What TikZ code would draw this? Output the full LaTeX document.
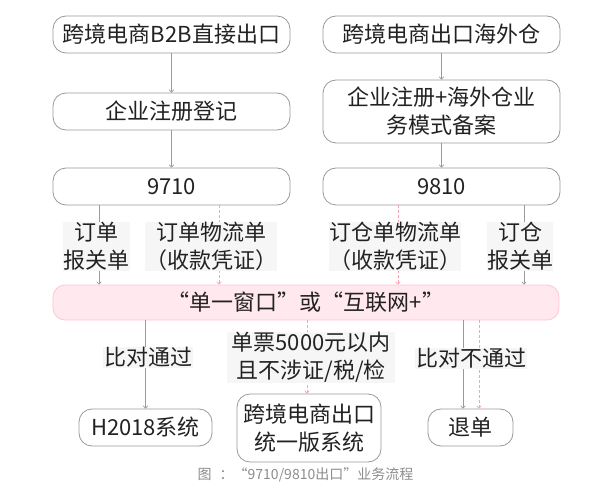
\documentclass[tikz,border=0pt]{standalone}
\usepackage{fontspec}
\setmainfont{Noto Sans CJK SC}
\usetikzlibrary{arrows.meta}
\definecolor{boxline}{HTML}{9A9A9A}
\definecolor{txt}{HTML}{222222}
\definecolor{pinkfill}{HTML}{FFE8EE}
\definecolor{pinkline}{HTML}{FFC6D2}
\definecolor{pinkdash}{HTML}{FF9FB4}
\definecolor{labelbg}{HTML}{F6F6F6}
\definecolor{captxt}{HTML}{8C8C8C}
\tikzset{
  flowbox/.style={draw=boxline, line width=0.8pt, rounded corners=13pt, fill=white,
    text=txt, align=center, inner sep=0pt, font=\fontsize{22}{28}\selectfont},
  pinkbox/.style={draw=pinkline, line width=0.8pt, rounded corners=12pt, fill=pinkfill,
    text=txt, align=center, inner sep=0pt, font=\fontsize{22}{28}\selectfont},
  lbl/.style={fill=labelbg, text=txt, align=center, inner sep=0pt,
    font=\fontsize{22}{28}\selectfont},
  arr/.style={draw=boxline, line width=0.7pt, -{To[length=3pt,width=5pt]}},
  darr/.style={draw=pinkdash, line width=0.7pt, dash pattern=on 3pt off 2pt, -{To[length=3pt,width=5pt]}},
}
\begin{document}
\begin{tikzpicture}[x=1pt,y=-1pt]
\useasboundingbox (0,0) rectangle (603,503);
% top row
\node[flowbox, minimum width=237pt, minimum height=37pt] (b1) at (171.5,34.5) {跨境电商B2B直接出口};
\node[flowbox, minimum width=237pt, minimum height=37pt] (r1) at (441.5,34.5) {跨境电商出口海外仓};
\node[flowbox, minimum width=237pt, minimum height=37pt] (b2) at (171.5,111.5) {企业注册登记};
\node[flowbox, minimum width=237pt, minimum height=63pt] (r2) at (441.5,111.5) {企业注册+海外仓业\\务模式备案};
\node[flowbox, minimum width=237pt, minimum height=37pt] (b3) at (171.5,186.5) {9710};
\node[flowbox, minimum width=237pt, minimum height=37pt] (r3) at (441.5,186.5) {9810};
\node[pinkbox, minimum width=506pt, minimum height=35pt] (pk) at (306,302.5) {“单一窗口”或“互联网+”};
\node[flowbox, minimum width=133pt, minimum height=37pt] (h) at (145.5,427.5) {H2018系统};
\node[flowbox, minimum width=144pt, minimum height=68pt] (m) at (309,428) {跨境电商出口\\统一版系统};
\node[flowbox, minimum width=85pt, minimum height=37pt] (t) at (470.5,427.5) {退单};
% line positions
\coordinate (x1) at (99,0);
\coordinate (x2) at (219,0);
\coordinate (x3) at (398,0);
\coordinate (x4) at (524,0);
\coordinate (x5) at (307,0);
\coordinate (x6) at (463,0);
\coordinate (x7) at (479,0);
% connectors
\draw[arr] (b1) -- (b2);
\draw[arr] (b2) -- (b3);
\draw[arr] (r1) -- (r2);
\draw[arr] (r2) -- (r3);
\draw[arr] (b3.south -| x1) -- (pk.north -| x1);
\draw[darr] (b3.south -| x2) -- (pk.north -| x2);
\draw[darr] (r3.south -| x3) -- (pk.north -| x3);
\draw[arr] (r3.south -| x4) -- (pk.north -| x4);
\draw[arr] (pk.south -| h) -- (h.north);
\draw[darr] (pk.south -| x5) -- (m.north -| x5);
\draw[arr] (pk.south -| x6) -- (t.north -| x6);
\draw[darr] (pk.south -| x7) -- (t.north -| x7);
% labels
\node[lbl, minimum width=67pt, minimum height=49pt] (l1) at (96.5,246.5) {订单\\报关单};
\node[lbl, minimum width=128pt, minimum height=49pt] (l2) at (211,246.5) {订单物流单\\（收款凭证）};
\node[lbl, minimum width=130pt, minimum height=49pt] (l3) at (395,246.5) {订仓单物流单\\（收款凭证）};
\node[lbl, minimum width=66pt, minimum height=49pt] (l4) at (520,246.5) {订仓\\报关单};
\node[lbl, minimum width=90pt, minimum height=21pt] (l5) at (148,357.5) {比对通过};
\node[lbl, minimum width=168pt, minimum height=49pt] (l6) at (311,357.5) {单票5000元以内\\且不涉证/税/检};
\node[lbl, minimum width=112pt, minimum height=21pt] (l7) at (471,358) {比对不通过};
% caption
\node[text=captxt, inner sep=0pt, font=\fontsize{14}{16}\selectfont] (cap) at (305.5,475) {图\hspace{8pt}：“9710/9810出口”业务流程};
\end{tikzpicture}
\end{document}
